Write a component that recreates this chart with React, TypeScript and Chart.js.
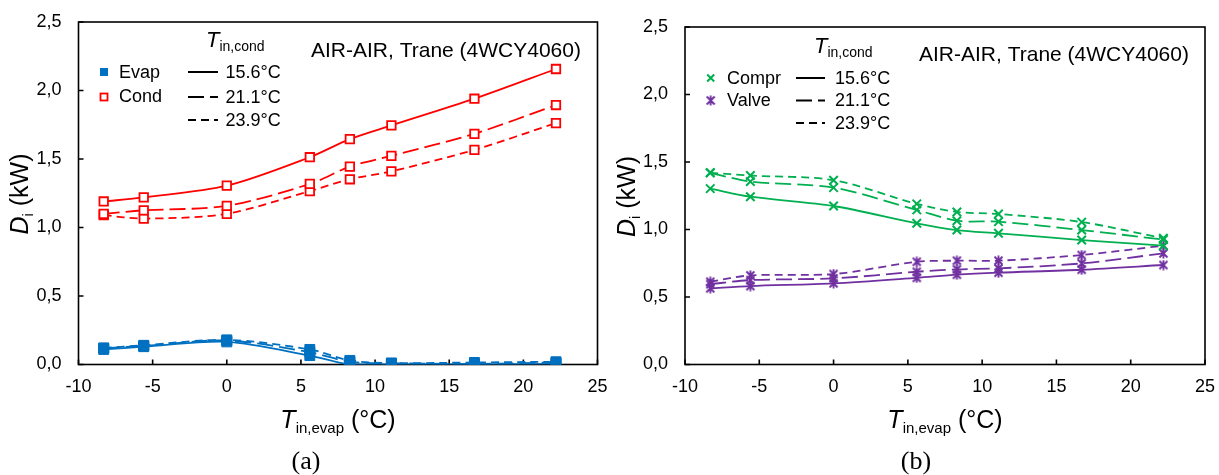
import React, { useEffect, useRef } from 'react';
import { Chart, registerables } from 'chart.js';

Chart.register(...registerables);

const SANS = '"Liberation Sans", Arial, Helvetica, sans-serif';
const SERIF = '"Liberation Serif", "Times New Roman", Times, serif';

// ---------- data ----------
const xTemps = [-8.3, -5.6, 0, 5.6, 8.3, 11.1, 16.7, 22.2];
const xTickValues = [-10, -5, 0, 5, 10, 15, 20, 25];
const yTickValues = [0, 0.5, 1, 1.5, 2, 2.5];
const condTempLabels = ['15.6°C', '21.1°C', '23.9°C'];
const leftSeriesNames = ['Evap', 'Cond'];
const rightSeriesNames = ['Compr', 'Valve'];
const unitLabel = 'AIR-AIR, Trane (4WCY4060)';
const panelLabels = ['(a)', '(b)'];

const evap156 = [0.11, 0.13, 0.165, 0.065, 0.0, 0.0, 0.0, 0.005];
const evap211 = [0.12, 0.135, 0.175, 0.09, 0.02, 0.01, 0.005, 0.015];
const evap239 = [0.12, 0.14, 0.18, 0.11, 0.03, 0.01, 0.015, 0.02];
const cond156 = [1.19, 1.22, 1.305, 1.513, 1.645, 1.745, 1.94, 2.157];
const cond211 = [1.1, 1.125, 1.158, 1.318, 1.444, 1.523, 1.684, 1.894];
const cond239 = [1.09, 1.065, 1.1, 1.266, 1.352, 1.41, 1.567, 1.762];

const compr156 = [1.303, 1.243, 1.174, 1.046, 0.996, 0.972, 0.922, 0.88];
const compr211 = [1.42, 1.355, 1.31, 1.145, 1.065, 1.058, 0.996, 0.925];
const compr239 = [1.42, 1.4, 1.365, 1.19, 1.13, 1.115, 1.055, 0.935];
const valve156 = [0.564, 0.581, 0.601, 0.642, 0.665, 0.68, 0.702, 0.737];
const valve211 = [0.595, 0.625, 0.638, 0.687, 0.705, 0.712, 0.749, 0.823];
const valve239 = [0.613, 0.66, 0.67, 0.761, 0.769, 0.769, 0.811, 0.88];

// ---------- styles ----------
const BLUE = '#0070C0';
const RED = '#FF0000';
const GREEN = '#00B050';
const PURPLE = '#7030A0';
const DASHES: number[][] = [[], [16, 6], [8, 5]];

type Part = { t: string; size: number; italic?: boolean; dy?: number; family?: string };

const fnt = (size: number, italic = false, family = SANS) => `${italic ? 'italic ' : ''}${size}px ${family}`;

function drawParts(ctx: CanvasRenderingContext2D, parts: Part[], x: number, y: number, align: 'left' | 'center') {
  let w = 0;
  for (const p of parts) {
    ctx.font = fnt(p.size, p.italic, p.family);
    w += ctx.measureText(p.t).width;
  }
  let cx = align === 'center' ? x - w / 2 : x;
  ctx.textAlign = 'left';
  for (const p of parts) {
    ctx.font = fnt(p.size, p.italic, p.family);
    ctx.fillText(p.t, cx, y + (p.dy || 0));
    cx += ctx.measureText(p.t).width;
  }
}

function makeStar(color: string) {
  const c = document.createElement('canvas');
  c.width = 11;
  c.height = 11;
  const g = c.getContext('2d')!;
  g.strokeStyle = color;
  g.lineWidth = 1.9;
  g.beginPath();
  g.moveTo(1.5, 1.5);
  g.lineTo(9.5, 9.5);
  g.moveTo(9.5, 1.5);
  g.lineTo(1.5, 9.5);
  g.moveTo(5.5, 0.5);
  g.lineTo(5.5, 10.5);
  g.stroke();
  return c;
}

const pts = (ys: number[]) => xTemps.map((x, i) => ({ x, y: ys[i] }));

function lineDs(ys: number[], color: string, dashIdx: number, pointStyle: any, radius: number, fill: string, pbw: number) {
  return {
    data: pts(ys),
    borderColor: color,
    backgroundColor: color,
    borderWidth: 1.8,
    borderDash: DASHES[dashIdx],
    tension: 0.3,
    pointStyle,
    pointRadius: radius,
    pointHoverRadius: radius,
    pointBackgroundColor: fill,
    pointBorderColor: color,
    pointBorderWidth: pbw,
    showLine: true,
    fill: false,
  };
}

const framePlugin = {
  id: 'frame',
  beforeDatasetsDraw(chart: any) {
    const { ctx, chartArea: a, scales } = chart;
    ctx.save();
    ctx.strokeStyle = '#000';
    ctx.lineWidth = 1.6;
    ctx.strokeRect(a.left, a.top, a.right - a.left, a.bottom - a.top);
    ctx.beginPath();
    for (const v of xTickValues) {
      const px = scales.x.getPixelForValue(v);
      ctx.moveTo(px, a.bottom);
      ctx.lineTo(px, a.bottom - 5);
    }
    for (const v of yTickValues) {
      const py = scales.y.getPixelForValue(v);
      ctx.moveTo(a.left, py);
      ctx.lineTo(a.left + 5, py);
    }
    ctx.stroke();
    ctx.restore();
  },
};

function drawLegendLines(ctx: CanvasRenderingContext2D, x0: number, x1: number, ys: number[], labelX: number) {
  ctx.save();
  ctx.strokeStyle = '#000';
  ctx.lineWidth = 2;
  ys.forEach((y, i) => {
    ctx.setLineDash(DASHES[i]);
    ctx.beginPath();
    ctx.moveTo(x0, y);
    ctx.lineTo(x1, y);
    ctx.stroke();
  });
  ctx.setLineDash([]);
  ctx.fillStyle = '#000';
  ctx.textBaseline = 'middle';
  ctx.textAlign = 'left';
  ctx.font = fnt(18);
  ys.forEach((y, i) => ctx.fillText(condTempLabels[i], labelX, y + 1));
  ctx.restore();
}

function drawTitles(ctx: CanvasRenderingContext2D, chart: any, yTitleX: number, yTitleY: number, panel: string, panelX: number) {
  const a = chart.chartArea;
  ctx.save();
  ctx.fillStyle = '#000';
  ctx.textBaseline = 'alphabetic';
  drawParts(
    ctx,
    [
      { t: 'T', size: 25, italic: true },
      { t: 'in,evap', size: 15, dy: 5 },
      { t: ' (°C)', size: 25 },
    ],
    (a.left + a.right) / 2,
    428,
    'center'
  );
  ctx.save();
  ctx.translate(yTitleX, yTitleY);
  ctx.rotate(-Math.PI / 2);
  drawParts(
    ctx,
    [
      { t: 'D', size: 25, italic: true },
      { t: 'i', size: 15, dy: 5 },
      { t: ' (kW)', size: 25 },
    ],
    0,
    0,
    'center'
  );
  ctx.restore();
  ctx.font = fnt(26, false, SERIF);
  ctx.textAlign = 'center';
  ctx.fillText(panel, panelX, 469);
  ctx.restore();
}

function drawLeftDeco(chart: any) {
  const ctx: CanvasRenderingContext2D = chart.ctx;
  ctx.save();
  ctx.fillStyle = '#000';
  ctx.textBaseline = 'alphabetic';
  drawParts(ctx, [{ t: 'T', size: 22, italic: true }, { t: 'in,cond', size: 14, dy: 4 }], 206, 47, 'left');
  ctx.fillStyle = BLUE;
  ctx.fillRect(100, 68, 8, 8);
  ctx.strokeStyle = RED;
  ctx.lineWidth = 1.8;
  ctx.fillStyle = '#fff';
  ctx.fillRect(100.5, 93.5, 7, 7);
  ctx.strokeRect(100.5, 93.5, 7, 7);
  ctx.fillStyle = '#000';
  ctx.textBaseline = 'middle';
  ctx.font = fnt(18);
  ctx.fillText(leftSeriesNames[0], 119, 73);
  ctx.fillText(leftSeriesNames[1], 119, 97.5);
  ctx.font = fnt(21);
  ctx.fillText(unitLabel, 311, 51);
  ctx.restore();
  drawLegendLines(ctx, 188, 218, [72, 97, 120], 225.5);
  drawTitles(ctx, chart, 28, 194, panelLabels[0], 306);
}

function drawRightDeco(chart: any, star: HTMLCanvasElement) {
  const ctx: CanvasRenderingContext2D = chart.ctx;
  ctx.save();
  ctx.fillStyle = '#000';
  ctx.textBaseline = 'alphabetic';
  drawParts(ctx, [{ t: 'T', size: 22, italic: true }, { t: 'in,cond', size: 14, dy: 4 }], 204, 53, 'left');
  ctx.strokeStyle = GREEN;
  ctx.lineWidth = 2;
  ctx.beginPath();
  ctx.moveTo(97.2, 74.5);
  ctx.lineTo(104.2, 81.5);
  ctx.moveTo(104.2, 74.5);
  ctx.lineTo(97.2, 81.5);
  ctx.stroke();
  ctx.drawImage(star, 100.7 - 5.5, 100.5 - 5.5);
  ctx.fillStyle = '#000';
  ctx.textBaseline = 'middle';
  ctx.font = fnt(18);
  ctx.fillText(rightSeriesNames[0], 117, 79);
  ctx.fillText(rightSeriesNames[1], 117, 101.5);
  ctx.font = fnt(21);
  ctx.fillText(unitLabel, 309, 55);
  ctx.restore();
  drawLegendLines(ctx, 186, 215, [78, 100.5, 123], 225);
  drawTitles(ctx, chart, 24.5, 196.5, panelLabels[1], 306);
}

type Area = { left: number; right: number; top: number; bottom: number };

const zeroPad = (s: any) => {
  s.paddingLeft = 0;
  s.paddingRight = 0;
  s.paddingTop = 0;
  s.paddingBottom = 0;
};

function buildConfig(side: 'left' | 'right', area: Area, canvasW: number) {
  const isLeft = side === 'left';
  const star = makeStar(PURPLE);
  const datasets = isLeft
    ? [
        lineDs(evap156, BLUE, 0, 'rect', 7, BLUE, 1),
        lineDs(evap211, BLUE, 1, 'rect', 7, BLUE, 1),
        lineDs(evap239, BLUE, 2, 'rect', 7, BLUE, 1),
        lineDs(cond156, RED, 0, 'rect', 6, '#fff', 1.8),
        lineDs(cond211, RED, 1, 'rect', 6, '#fff', 1.8),
        lineDs(cond239, RED, 2, 'rect', 6, '#fff', 1.8),
      ]
    : [
        lineDs(compr156, GREEN, 0, 'crossRot', 6, GREEN, 2),
        lineDs(compr211, GREEN, 1, 'crossRot', 6, GREEN, 2),
        lineDs(compr239, GREEN, 2, 'crossRot', 6, GREEN, 2),
        lineDs(valve156, PURPLE, 0, star, 5.5, PURPLE, 1.8),
        lineDs(valve211, PURPLE, 1, star, 5.5, PURPLE, 1.8),
        lineDs(valve239, PURPLE, 2, star, 5.5, PURPLE, 1.8),
      ];
  const deco = {
    id: 'deco',
    afterDraw(chart: any) {
      if (isLeft) drawLeftDeco(chart);
      else drawRightDeco(chart, star);
    },
  };
  const tickFont = { size: 18, family: SANS };
  return {
    type: 'line' as const,
    data: { datasets },
    options: {
      responsive: false,
      animation: false as const,
      events: [],
      layout: {
        autoPadding: false,
        padding: { left: 0, top: area.top, right: canvasW - area.right, bottom: 475 - area.bottom - 40 },
      },
      plugins: { legend: { display: false }, tooltip: { enabled: false } },
      scales: {
        x: {
          type: 'linear' as const,
          min: -10,
          max: 25,
          grid: { display: false, drawTicks: false },
          border: { display: false },
          ticks: { color: '#000', font: tickFont, padding: 12, callback: (v: any) => String(v) },
          afterBuildTicks: (s: any) => {
            s.ticks = xTickValues.map((v) => ({ value: v }));
          },
          afterFit: (s: any) => {
            s.height = 40;
            zeroPad(s);
          },
        },
        y: {
          type: 'linear' as const,
          min: 0,
          max: 2.5,
          grid: { display: false, drawTicks: false },
          border: { display: false },
          ticks: {
            color: '#000',
            font: tickFont,
            padding: 17,
            callback: (v: any) => Number(v).toFixed(1).replace('.', ','),
          },
          afterBuildTicks: (s: any) => {
            s.ticks = yTickValues.map((v) => ({ value: v }));
          },
          afterFit: (s: any) => {
            s.width = area.left;
            zeroPad(s);
          },
        },
      },
    },
    plugins: [framePlugin, deco],
  };
}

const AREAS: Record<string, Area> = {
  left: { left: 78.5, right: 597.5, top: 22, bottom: 364.5 },
  right: { left: 75, right: 595, top: 27, bottom: 364.5 },
};

function Panel({ side, left, width }: { side: 'left' | 'right'; left: number; width: number }) {
  const ref = useRef<HTMLCanvasElement>(null);
  useEffect(() => {
    const area = AREAS[side];
    const cfg = buildConfig(side, area, width);
    const chart = new Chart(ref.current as HTMLCanvasElement, cfg as any);
    return () => chart.destroy();
  }, [side, width]);
  return (
    <canvas
      ref={ref}
      width={width}
      height={475}
      style={{ position: 'absolute', left, top: 0, width, height: 475, display: 'block' }}
    />
  );
}

export default function App() {
  return (
    <div style={{ position: 'fixed', left: 0, top: 0, width: 1219, height: 475, background: '#fff', overflow: 'hidden' }}>
      <Panel side="left" left={0} width={610} />
      <Panel side="right" left={610} width={609} />
    </div>
  );
}
